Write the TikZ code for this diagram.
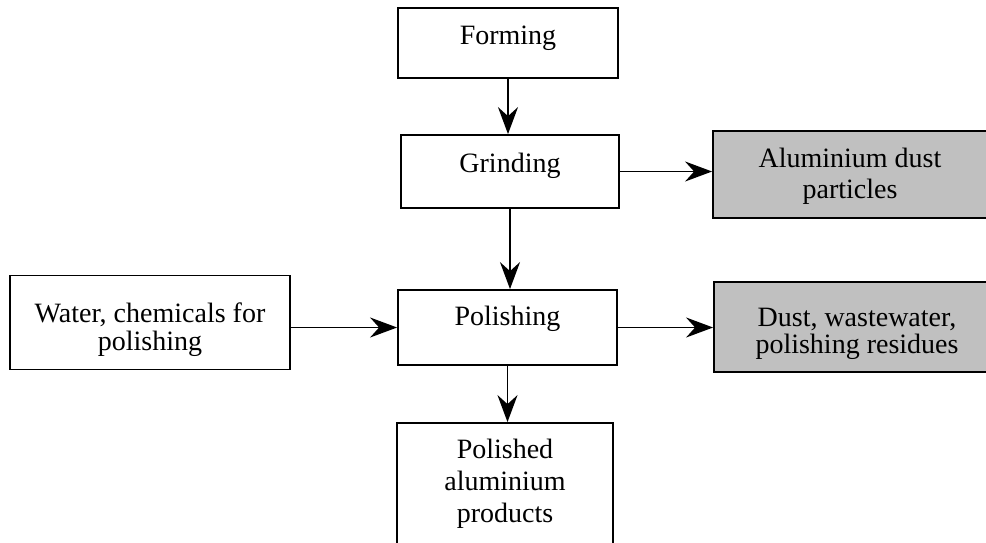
\documentclass[tikz,border=0pt]{standalone}
\usepackage{fontspec}
\setmainfont{Liberation Serif}
\usetikzlibrary{arrows.meta}
\begin{document}
\begin{tikzpicture}[x=1pt,y=-1pt,
  stepbox/.style={draw=black, line width=1.8pt, fill=white, inner sep=0pt},
  wastebox/.style={stepbox, fill=wastegray},
  lbl/.style={font=\fontsize{28}{#1}\selectfont, align=center, anchor=base, inner sep=0pt},
  lbl/.default=32,
  flow/.style={line width=1.9pt, -{Stealth[length=27pt, width=20pt, inset=9pt]}},
]
\definecolor{wastegray}{HTML}{C0C0C0}
\useasboundingbox (0,0) rectangle (986,542);
\clip (0,0) rectangle (986,542);

% process chain
\node[stepbox, minimum width=220pt, minimum height=70pt] (form) at (508,43) {};
\node[stepbox, minimum width=218pt, minimum height=73pt] (grind) at (510,171.5) {};
\node[stepbox, minimum width=219pt, minimum height=75pt] (pol) at (507.5,327.5) {};
\node[stepbox, minimum width=216pt, minimum height=140pt] (prod) at (505,493) {};

% inputs and outputs
\node[stepbox, minimum width=280pt, minimum height=94pt] (water) at (150,322.5) {};
\node[wastebox, minimum width=274pt, minimum height=87pt] (al) at (850,174.5) {};
\node[wastebox, minimum width=286pt, minimum height=90pt] (dust) at (857,327) {};

% labels (a multi-line label sits on the baseline of its last line)
\node[lbl] (formt) at (508,44) {Forming};
\node[lbl] (grindt) at (510,172) {Grinding};
\node[lbl] (polt) at (507.5,325) {Polishing};
\node[lbl=32] (prodt) at (505,522) {Polished\\aluminium\\products};
\node[lbl=28] (watert) at (150,350) {Water, chemicals for\\polishing};
\node[lbl=31] (alt) at (850,198) {Aluminium dust\\particles};
\node[lbl=27] (dustt) at (857,353) {Dust, wastewater,\\polishing residues};

% connectors
\draw[flow] (form.south) -- (form.south |- grind.north);
\draw[flow] (grind.south) -- (grind.south |- pol.north);
\draw[flow] (pol.south) -- (pol.south |- prod.north);
\draw[flow] (grind.east) -- (grind.east -| al.west);
\draw[flow] (pol.east) -- (pol.east -| dust.west);
\draw[flow] (pol.west -| water.east) -- (pol.west);
\end{tikzpicture}
\end{document}
